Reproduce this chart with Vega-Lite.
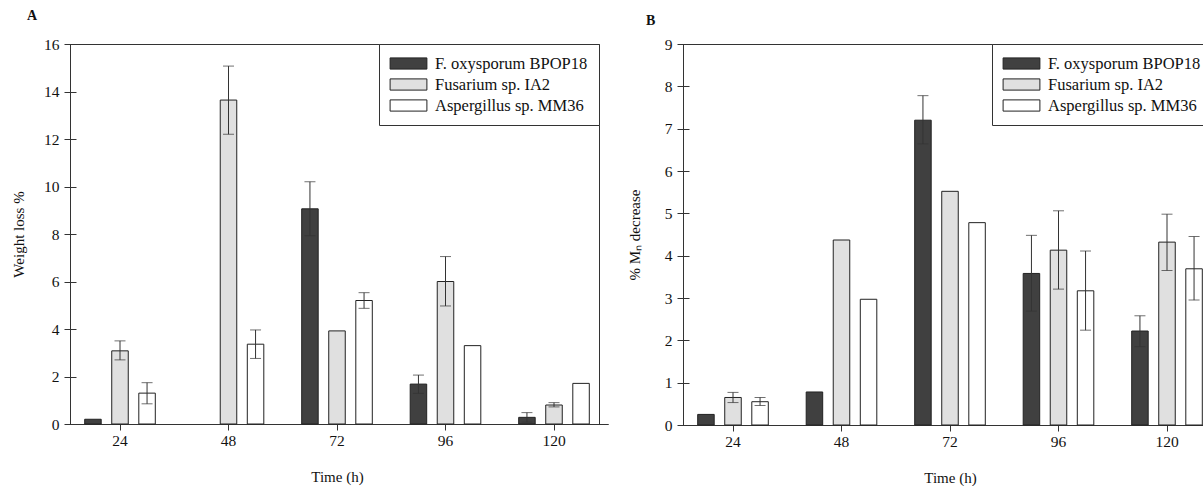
{
  "$schema": "https://vega.github.io/schema/vega-lite/v6.json",
  "autosize": {"type": "pad"},
  "padding": {"left": 10, "top": 8, "right": 0, "bottom": 0},
  "background": "white",
  "bounds": "flush",
  "spacing": 84,
  "datasets": {
    "A": [
      {"time": 24, "strain": "F. oxysporum BPOP18", "value": 0.2},
      {"time": 24, "strain": "Fusarium sp. IA2", "value": 3.08, "lo": 2.7, "hi": 3.5},
      {"time": 24, "strain": "Aspergillus sp. MM36", "value": 1.3, "lo": 0.85, "hi": 1.74},
      {"time": 48, "strain": "Fusarium sp. IA2", "value": 13.64, "lo": 12.2, "hi": 15.07},
      {"time": 48, "strain": "Aspergillus sp. MM36", "value": 3.36, "lo": 2.76, "hi": 3.96},
      {"time": 72, "strain": "F. oxysporum BPOP18", "value": 9.06, "lo": 7.93, "hi": 10.2},
      {"time": 72, "strain": "Fusarium sp. IA2", "value": 3.92},
      {"time": 72, "strain": "Aspergillus sp. MM36", "value": 5.2, "lo": 4.87, "hi": 5.53},
      {"time": 96, "strain": "F. oxysporum BPOP18", "value": 1.68, "lo": 1.29, "hi": 2.06},
      {"time": 96, "strain": "Fusarium sp. IA2", "value": 6.0, "lo": 4.97, "hi": 7.05},
      {"time": 96, "strain": "Aspergillus sp. MM36", "value": 3.3},
      {"time": 120, "strain": "F. oxysporum BPOP18", "value": 0.28, "lo": 0.08, "hi": 0.48},
      {"time": 120, "strain": "Fusarium sp. IA2", "value": 0.8, "lo": 0.72, "hi": 0.9},
      {"time": 120, "strain": "Aspergillus sp. MM36", "value": 1.71}
    ],
    "B": [
      {"time": 24, "strain": "F. oxysporum BPOP18", "value": 0.25},
      {"time": 24, "strain": "Fusarium sp. IA2", "value": 0.65, "lo": 0.53, "hi": 0.77},
      {"time": 24, "strain": "Aspergillus sp. MM36", "value": 0.55, "lo": 0.46, "hi": 0.65},
      {"time": 48, "strain": "F. oxysporum BPOP18", "value": 0.78},
      {"time": 48, "strain": "Fusarium sp. IA2", "value": 4.37},
      {"time": 48, "strain": "Aspergillus sp. MM36", "value": 2.97},
      {"time": 72, "strain": "F. oxysporum BPOP18", "value": 7.2, "lo": 6.64, "hi": 7.78},
      {"time": 72, "strain": "Fusarium sp. IA2", "value": 5.52},
      {"time": 72, "strain": "Aspergillus sp. MM36", "value": 4.78},
      {"time": 96, "strain": "F. oxysporum BPOP18", "value": 3.58, "lo": 2.69, "hi": 4.48},
      {"time": 96, "strain": "Fusarium sp. IA2", "value": 4.13, "lo": 3.21, "hi": 5.06},
      {"time": 96, "strain": "Aspergillus sp. MM36", "value": 3.17, "lo": 2.24, "hi": 4.11},
      {"time": 120, "strain": "F. oxysporum BPOP18", "value": 2.22, "lo": 1.85, "hi": 2.58},
      {"time": 120, "strain": "Fusarium sp. IA2", "value": 4.32, "lo": 3.65, "hi": 4.98},
      {"time": 120, "strain": "Aspergillus sp. MM36", "value": 3.69, "lo": 2.95, "hi": 4.45}
    ]
  },
  "config": {
    "view": {"stroke": "#333", "strokeWidth": 1},
    "font": "Liberation Serif",
    "axis": {
      "grid": false,
      "domainColor": "#333",
      "tickColor": "#333",
      "labelColor": "#111",
      "titleColor": "#111",
      "labelFont": "Liberation Serif",
      "titleFont": "Liberation Serif",
      "labelFontSize": 15.5,
      "titleFontSize": 15,
      "titleFontWeight": "normal",
      "tickSize": 6
    },
    "axisY": {"offset": -6, "tickSize": 12, "domain": false},
    "legend": {
      "orient": "top-right",
      "offset": 0,
      "padding": 11,
      "strokeColor": "#333",
      "fillColor": "white",
      "labelFont": "Liberation Serif",
      "labelFontSize": 16.5,
      "labelColor": "#111",
      "symbolType": "M-2.3,-0.7H2.3V0.7H-2.3Z",
      "symbolSize": 256,
      "symbolStrokeColor": "#222",
      "symbolStrokeWidth": 1,
      "symbolOffset": 10,
      "labelOffset": 18,
      "rowPadding": 4
    },
    "title": {"font": "Liberation Serif", "fontSize": 14, "fontWeight": "bold", "color": "#111"}
  },
  "resolve": {"scale": {"fill": "independent"}, "legend": {"fill": "independent"}},
  "hconcat": [
    {
      "width": 529,
      "height": 380,
      "title": {"text": "A", "anchor": "start", "frame": "group", "dx": -43, "offset": 14},
      "data": {"name": "A"},
      "encoding": {
        "x": {"field": "time", "type": "ordinal", "scale": {"type": "band", "range": [-4.25, 538.25], "paddingInner": 0, "paddingOuter": 0},
              "axis": {"title": "Time (h)", "labelAngle": 0, "labelPadding": 3, "titlePadding": 21}},
        "xOffset": {"field": "strain", "type": "nominal", "scale": {"domain": ["F. oxysporum BPOP18", "Fusarium sp. IA2", "Aspergillus sp. MM36"], "paddingInner": 0.39, "paddingOuter": 0.7}}
      },
      "layer": [
        {
          "mark": {"type": "bar", "stroke": "#222", "strokeWidth": 1},
          "encoding": {
            "y": {"field": "value", "type": "quantitative", "scale": {"domain": [0, 16]}, "axis": {"title": "Weight loss %", "values": [0, 2, 4, 6, 8, 10, 12, 14, 16], "labelPadding": 5, "titleX": -50}},
            "fill": {"field": "strain", "type": "nominal", "scale": {"domain": ["F. oxysporum BPOP18", "Fusarium sp. IA2", "Aspergillus sp. MM36"], "range": ["#404040", "#e0e0e0", "#ffffff"]}, "legend": {"title": null}}
          }
        },
        {
          "mark": {"type": "rule", "color": "#333", "strokeWidth": 1},
          "encoding": {"y": {"field": "lo", "type": "quantitative"}, "y2": {"field": "hi"}}
        },
        {
          "mark": {"type": "tick", "color": "#333", "size": 11, "thickness": 1, "orient": "horizontal"},
          "encoding": {"y": {"field": "hi", "type": "quantitative"}}
        },
        {
          "mark": {"type": "tick", "color": "#333", "size": 11, "thickness": 1, "orient": "horizontal"},
          "encoding": {"y": {"field": "lo", "type": "quantitative"}}
        }
      ]
    },
    {
      "width": 529,
      "height": 381,
      "title": {"text": "B", "anchor": "start", "frame": "group", "dx": -37, "offset": 9},
      "data": {"name": "B"},
      "encoding": {
        "x": {"field": "time", "type": "ordinal", "scale": {"type": "band", "range": [-4.25, 538.25], "paddingInner": 0, "paddingOuter": 0},
              "axis": {"title": "Time (h)", "labelAngle": 0, "labelPadding": 3, "titlePadding": 21}},
        "xOffset": {"field": "strain", "type": "nominal", "scale": {"domain": ["F. oxysporum BPOP18", "Fusarium sp. IA2", "Aspergillus sp. MM36"], "paddingInner": 0.39, "paddingOuter": 0.7}}
      },
      "layer": [
        {
          "mark": {"type": "bar", "stroke": "#222", "strokeWidth": 1},
          "encoding": {
            "y": {"field": "value", "type": "quantitative", "scale": {"domain": [0, 9]}, "axis": {"title": "% Mₙ decrease", "values": [0, 1, 2, 3, 4, 5, 6, 7, 8, 9], "labelPadding": 5, "titleX": -47}},
            "fill": {"field": "strain", "type": "nominal", "scale": {"domain": ["F. oxysporum BPOP18", "Fusarium sp. IA2", "Aspergillus sp. MM36"], "range": ["#404040", "#e0e0e0", "#ffffff"]}, "legend": {"title": null}}
          }
        },
        {
          "mark": {"type": "rule", "color": "#333", "strokeWidth": 1},
          "encoding": {"y": {"field": "lo", "type": "quantitative"}, "y2": {"field": "hi"}}
        },
        {
          "mark": {"type": "tick", "color": "#333", "size": 11, "thickness": 1, "orient": "horizontal"},
          "encoding": {"y": {"field": "hi", "type": "quantitative"}}
        },
        {
          "mark": {"type": "tick", "color": "#333", "size": 11, "thickness": 1, "orient": "horizontal"},
          "encoding": {"y": {"field": "lo", "type": "quantitative"}}
        }
      ]
    }
  ]
}
